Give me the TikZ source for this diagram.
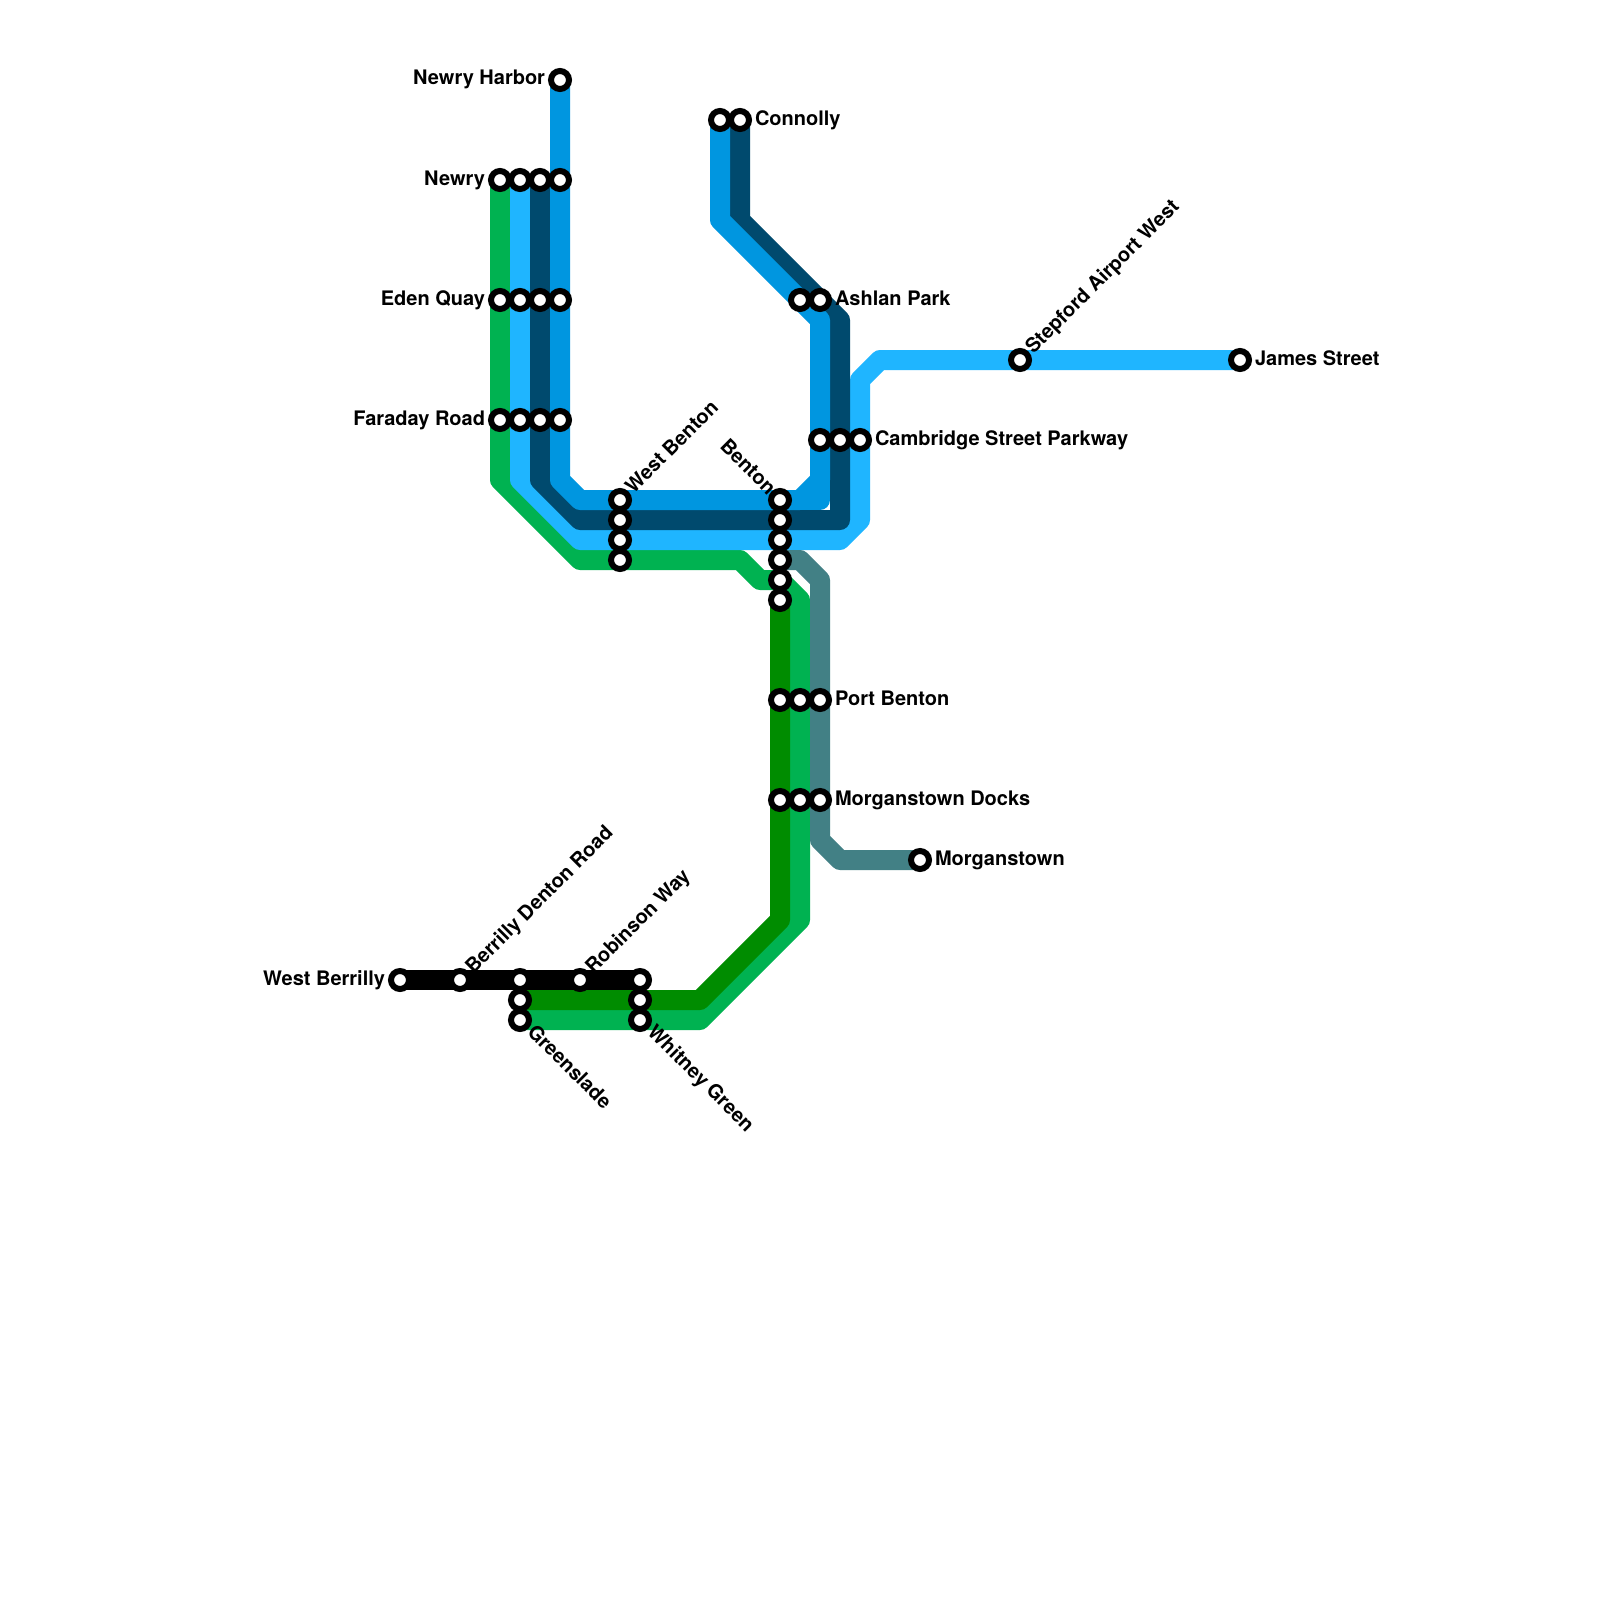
\documentclass[tikz,border=0pt]{standalone}
\usepackage{fontspec}
\setmainfont{TeX Gyre Heros}
\definecolor{cgreen}{HTML}{00B251}
\definecolor{clight}{HTML}{1FB5FF}
\definecolor{cdark}{HTML}{004A6E}
\definecolor{cblue}{HTML}{0096E0}
\definecolor{cforest}{HTML}{008C00}
\definecolor{cteal}{HTML}{428085}
\tikzset{
  metro/.style={line width=20pt,line join=round,line cap=butt},
  stn/.style={circle,draw=black,fill=white,line width=6pt,minimum size=18pt,inner sep=0pt,outer sep=0pt},
  lbl/.style={font=\bfseries\fontsize{20pt}{20pt}\selectfont,inner sep=0pt,outer sep=0pt,text=black,text height=14pt,text depth=0pt},
  lr/.style={lbl,anchor=west,xshift=15pt,text height=10pt},
  ll/.style={lbl,anchor=east,xshift=-15pt,text height=10pt},
  lne/.style={lbl,anchor=west,rotate=45,xshift=13.3pt,yshift=1.2pt},
  lse/.style={lbl,anchor=west,rotate=-45,xshift=13.8pt,yshift=2.2pt},
  lnw/.style={lbl,anchor=east,rotate=-45,xshift=-11.8pt,yshift=1.2pt},
}
\begin{document}
\begin{tikzpicture}[x=1pt,y=-1pt]
\useasboundingbox (0,0) rectangle (1600,1600);
\fill[white] (0,0) rectangle (1600,1600);
% waypoints: green
\coordinate (ga) at (500,180); \coordinate (gb) at (500,480); \coordinate (gc) at (580,560);
\coordinate (gd) at (740,560); \coordinate (ge) at (760,580); \coordinate (gf) at (780,580);
\coordinate (gg) at (800,600); \coordinate (gh) at (800,920); \coordinate (gi) at (700,1020);
\coordinate (gj) at (520,1020);
% light blue
\coordinate (la) at (520,180); \coordinate (lb) at (520,480); \coordinate (lc) at (580,540);
\coordinate (ld) at (840,540); \coordinate (le) at (860,520); \coordinate (lf) at (860,380);
\coordinate (lg) at (880,360); \coordinate (lh) at (1240,360);
% dark blue
\coordinate (da) at (540,180); \coordinate (db) at (540,480); \coordinate (dc) at (580,520);
\coordinate (dd) at (840,520); \coordinate (de) at (840,320); \coordinate (df) at (740,220);
\coordinate (dg) at (740,120);
% blue
\coordinate (ba) at (560,80); \coordinate (bb) at (560,480); \coordinate (bc) at (580,500);
\coordinate (bd) at (800,500); \coordinate (be) at (820,480); \coordinate (bf) at (820,320);
\coordinate (bg) at (720,220); \coordinate (bh) at (720,120); \coordinate (bi) at (820,500);
% forest green
\coordinate (fa) at (780,600); \coordinate (fb) at (780,920); \coordinate (fc) at (700,1000);
\coordinate (fd) at (520,1000);
% teal
\coordinate (ta) at (780,560); \coordinate (tb) at (800,560); \coordinate (tc) at (820,580);
\coordinate (td) at (820,840); \coordinate (te) at (840,860); \coordinate (tf) at (920,860);
% black
\coordinate (ka) at (400,980); \coordinate (kb) at (640,980);
% lines
\draw[metro,cgreen] (ga)--(gb)--(gc)--(gd)--(ge)--(gf)--(gg)--(gh)--(gi)--(gj);
\draw[metro,clight] (la)--(lb)--(lc)--(ld)--(le)--(lf)--(lg)--(lh);
\draw[metro,cdark] (da)--(db)--(dc)--(dd)--(de)--(df)--(dg);
\draw[metro,cblue] (ba)--(bb)--(bc)--(bd)--(be)--(bf)--(bg)--(bh);
\draw[metro,cblue] (bd)--(bi)--(be);
\draw[metro,cforest] (fa)--(fb)--(fc)--(fd);
\draw[metro,cteal] (ta)--(tb)--(tc)--(td)--(te)--(tf);
\draw[metro,black] (ka)--(kb);
% stations
\node[stn] (s1) at (560,80) {};
\node[stn] (s2) at (500,180) {}; \node[stn] (s3) at (520,180) {}; \node[stn] (s4) at (540,180) {}; \node[stn] (s5) at (560,180) {};
\node[stn] (s6) at (500,300) {}; \node[stn] (s7) at (520,300) {}; \node[stn] (s8) at (540,300) {}; \node[stn] (s9) at (560,300) {};
\node[stn] (s10) at (500,420) {}; \node[stn] (s11) at (520,420) {}; \node[stn] (s12) at (540,420) {}; \node[stn] (s13) at (560,420) {};
\node[stn] (w1) at (620,560) {}; \node[stn] (w2) at (620,540) {}; \node[stn] (w3) at (620,520) {}; \node[stn] (w4) at (620,500) {};
\node[stn] (b1) at (780,600) {}; \node[stn] (b2) at (780,580) {}; \node[stn] (b3) at (780,560) {}; \node[stn] (b4) at (780,540) {}; \node[stn] (b5) at (780,520) {}; \node[stn] (b6) at (780,500) {};
\node[stn] (c1) at (720,120) {}; \node[stn] (c2) at (740,120) {};
\node[stn] (a1) at (800,300) {}; \node[stn] (a2) at (820,300) {};
\node[stn] (m1) at (820,440) {}; \node[stn] (m2) at (840,440) {}; \node[stn] (m3) at (860,440) {};
\node[stn] (e1) at (1020,360) {}; \node[stn] (e2) at (1240,360) {};
\node[stn] (p1) at (780,700) {}; \node[stn] (p2) at (800,700) {}; \node[stn] (p3) at (820,700) {};
\node[stn] (o1) at (780,800) {}; \node[stn] (o2) at (800,800) {}; \node[stn] (o3) at (820,800) {};
\node[stn] (o4) at (920,860) {};
\node[stn] (k1) at (400,980) {}; \node[stn] (k2) at (460,980) {}; \node[stn] (k3) at (580,980) {};
\node[stn] (g1) at (520,980) {}; \node[stn] (g2) at (520,1000) {}; \node[stn] (g3) at (520,1020) {};
\node[stn] (h1) at (640,980) {}; \node[stn] (h2) at (640,1000) {}; \node[stn] (h3) at (640,1020) {};
% labels
\node[ll] (t1) at (s1) {Newry Harbor};
\node[ll] (t2) at (s2) {Newry};
\node[ll] (t3) at (s6) {Eden Quay};
\node[ll] (t4) at (s10) {Faraday Road};
\node[lne] (t5) at (w4) {West Benton};
\node[lnw] (t6) at (b6) {Benton};
\node[lr] (t7) at (c2) {Connolly};
\node[lr] (t8) at (a2) {Ashlan Park};
\node[lr] (t9) at (m3) {Cambridge Street Parkway};
\node[lne] (t10) at (e1) {Stepford Airport West};
\node[lr] (t11) at (e2) {James Street};
\node[lr] (t12) at (p3) {Port Benton};
\node[lr] (t13) at (o3) {Morganstown Docks};
\node[lr] (t14) at (o4) {Morganstown};
\node[ll] (t15) at (k1) {West Berrilly};
\node[lne] (t16) at (k2) {Berrilly Denton Road};
\node[lne] (t17) at (k3) {Robinson Way};
\node[lse] (t18) at (g3) {Greenslade};
\node[lse] (t19) at (h3) {Whitney Green};
\end{tikzpicture}
\end{document}
